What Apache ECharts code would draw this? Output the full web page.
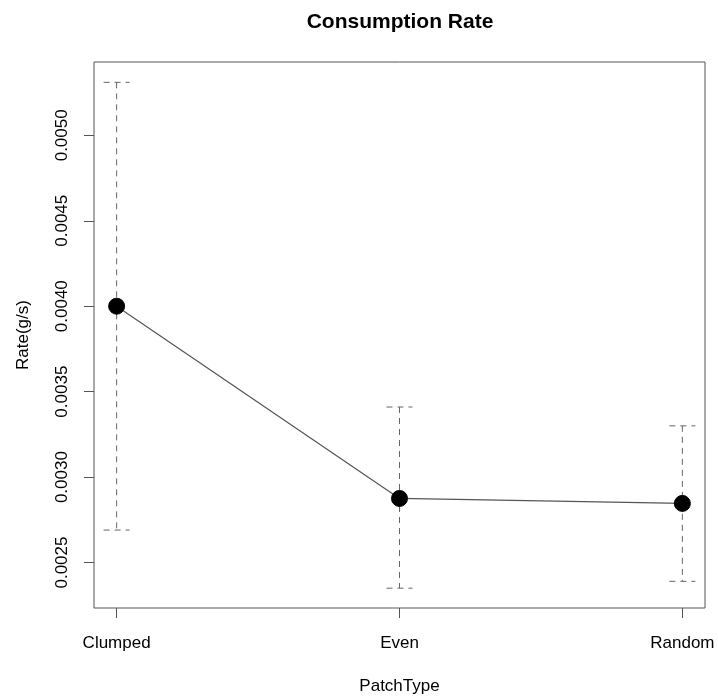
<!DOCTYPE html>
<html>
<head>
<meta charset="utf-8">
<script src="https://cdn.jsdelivr.net/npm/echarts@6/dist/echarts.min.js"></script>
<style>html,body{margin:0;padding:0;background:#fff}#c{width:718px;height:696px}</style>
</head>
<body>
<div id="c"></div>
<script>
var categories = ['Clumped', 'Even', 'Random'];
var means = [0.00400, 0.002875, 0.002846];
var upper = [0.00531, 0.00341, 0.00330];
var lower = [0.00269, 0.00235, 0.00239];
var yTicks = [0.0025, 0.0030, 0.0035, 0.0040, 0.0045, 0.0050];

var FONT = '"Liberation Sans", Arial, Helvetica, sans-serif';
var chart = echarts.init(document.getElementById('c'));

var pointData = categories.map(function (c, i) { return [i + 1, means[i]]; });
var errData = categories.map(function (c, i) { return [i + 1, lower[i], upper[i]]; });
var xTicks = categories.map(function (c, i) { return i + 1; });

chart.setOption({
  animation: false,
  backgroundColor: '#fff',
  title: {
    text: 'Consumption Rate',
    left: 395, top: 7, textAlign: 'center',
    textStyle: { fontFamily: FONT, fontSize: 21, fontWeight: 'bold', color: '#000' }
  },
  grid: {
    left: 94, right: 13, top: 62, bottom: 88,
    outerBoundsMode: 'none', containLabel: false,
    show: true, borderColor: '#555', borderWidth: 1, backgroundColor: 'transparent'
  },
  xAxis: {
    type: 'value', min: 0.92, max: 3.08,
    name: 'PatchType', nameLocation: 'middle', nameGap: 70,
    nameTextStyle: { fontFamily: FONT, fontSize: 17, color: '#000' },
    axisLine: { show: false },
    splitLine: { show: false },
    axisTick: { show: true, length: 10, inside: false, customValues: xTicks, lineStyle: { color: '#555' } },
    axisLabel: {
      customValues: xTicks, margin: 27, fontFamily: FONT, fontSize: 17, color: '#000',
      formatter: function (v) { return categories[Math.round(v) - 1] || ''; }
    }
  },
  yAxis: {
    type: 'value', min: 0.002234, max: 0.005429,
    name: 'Rate(g/s)', nameLocation: 'middle', nameGap: 62, nameRotate: 90,
    nameTextStyle: { fontFamily: FONT, fontSize: 17, color: '#000' },
    axisLine: { show: false },
    splitLine: { show: false },
    axisTick: { show: true, length: 10, inside: false, customValues: yTicks, lineStyle: { color: '#555' } },
    axisLabel: {
      customValues: yTicks, rotate: 90, margin: 23, fontFamily: FONT, fontSize: 17, color: '#000',
      formatter: function (v) { return v.toFixed(4); }
    }
  },
  series: [
    {
      type: 'custom',
      data: errData,
      z: 2,
      renderItem: function (params, api) {
        var x = api.value(0);
        var lo = api.coord([x, api.value(1)]);
        var hi = api.coord([x, api.value(2)]);
        var cap = 13;
        var style = { stroke: '#666', lineWidth: 1, lineDash: [6, 5], fill: null };
        return {
          type: 'group',
          children: [
            { type: 'line', shape: { x1: hi[0], y1: hi[1], x2: hi[0], y2: lo[1] }, style: style },
            { type: 'line', shape: { x1: hi[0] - cap, y1: hi[1], x2: hi[0] + cap, y2: hi[1] }, style: style },
            { type: 'line', shape: { x1: lo[0] - cap, y1: lo[1], x2: lo[0] + cap, y2: lo[1] }, style: style }
          ]
        };
      }
    },
    {
      type: 'line',
      data: pointData,
      z: 3,
      symbol: 'circle',
      symbolSize: 16,
      lineStyle: { color: '#555', width: 1.2 },
      itemStyle: { color: '#000', borderColor: '#000' }
    }
  ]
});
</script>
</body>
</html>
